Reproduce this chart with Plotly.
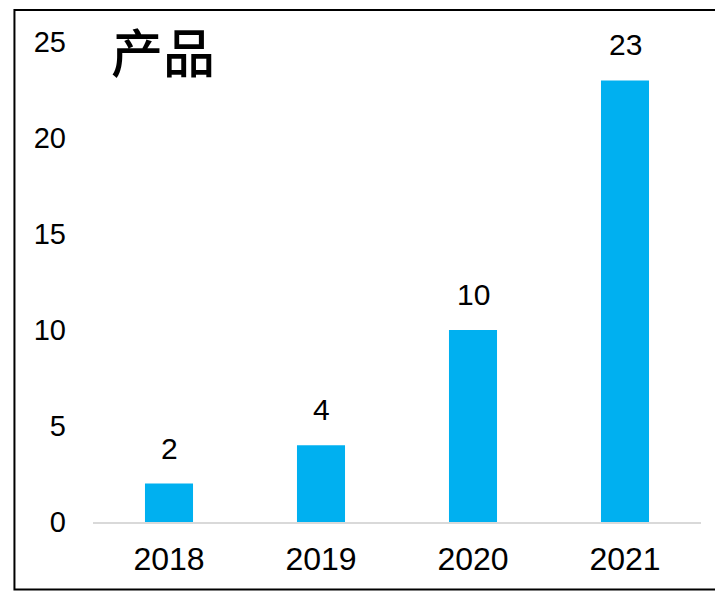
import plotly.graph_objects as go

years = ["2018", "2019", "2020", "2021"]
values = [2, 4, 10, 23]
y_ticks = [0, 5, 10, 15, 20, 25]
title_text = "产品"

fig = go.Figure()
fig.add_trace(go.Bar(
    x=years, y=values,
    marker=dict(color="#00B0F0", line=dict(width=0)),
    width=0.316,
    hoverinfo="skip",
))

for i, v in enumerate(values):
    fig.add_annotation(
        x=i, y=v, text=str(v), showarrow=False,
        xref="x", yref="y", yanchor="bottom", yshift=17,
        font=dict(family="Liberation Sans, Arial, sans-serif", size=30, color="#000000"),
    )

fig.add_annotation(
    x=0.027, y=1.065, xref="paper", yref="paper",
    text=title_text, showarrow=False, xanchor="left", yanchor="top",
    font=dict(family="Noto Sans CJK SC, sans-serif", size=52, color="#000000", weight=500),
)

fig.add_shape(
    type="rect", xref="paper", yref="paper",
    x0=-0.1292, x1=1.05, y0=-0.1406, y1=1.0667,
    line=dict(color="#000000", width=2), fillcolor="rgba(0,0,0,0)", layer="above",
)

fig.update_layout(
    width=715, height=591,
    margin=dict(l=93, r=14, t=42, b=69, autoexpand=False),
    paper_bgcolor="white", plot_bgcolor="white",
    showlegend=False,
    xaxis=dict(
        type="category", range=[-0.5, 3.5], automargin=False,
        showgrid=False, zeroline=False, showline=True,
        linecolor="#d9d9d9", linewidth=2,
        ticks="", ticklabelstandoff=8,
        tickfont=dict(family="Liberation Sans, Arial, sans-serif", size=32, color="#000000"),
    ),
    yaxis=dict(
        range=[0, 25], tickvals=y_ticks, automargin=False,
        showgrid=False, zeroline=False, showline=False,
        ticks="", ticklabelstandoff=26,
        tickfont=dict(family="Liberation Sans, Arial, sans-serif", size=29, color="#000000"),
    ),
)

fig.write_html(
    "out.html",
    config={"responsive": False, "displayModeBar": False},
    post_script="document.body.style.margin='0';document.body.style.overflow='hidden';",
)
